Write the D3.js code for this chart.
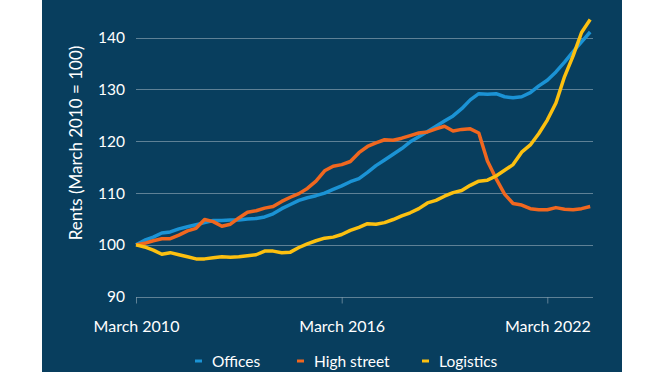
<!DOCTYPE html>
<html>
<head>
<meta charset="utf-8">
<script src="https://cdn.jsdelivr.net/npm/d3@7"></script>
<style>
  html, body { margin: 0; padding: 0; background: #ffffff; }
  svg { display: block; }
  text { font-family: Lato, "Open Sans", sans-serif; fill: #ffffff; }
</style>
</head>
<body>
<svg id="chart" width="661" height="372"></svg>
<script>
// Quarterly observations from March 2010 to June 2023
const startDate = new Date(2010, 2, 1);
const offices = [100,100.9,101.5,102.3,102.5,103.1,103.5,103.9,104.3,104.7,104.7,104.8,104.8,105.0,105.1,105.4,106.0,107.0,107.8,108.6,109.1,109.5,110.0,110.7,111.4,112.2,112.8,114.0,115.3,116.4,117.5,118.6,119.9,120.9,121.9,122.9,123.9,124.9,126.3,128.0,129.2,129.1,129.2,128.6,128.4,128.6,129.4,130.7,131.8,133.4,135.3,137.3,139.2,141.1];
const highStreet = [100,100.3,100.8,101.2,101.2,101.9,102.7,103.2,104.9,104.5,103.6,104.0,105.2,106.3,106.6,107.1,107.4,108.4,109.2,109.9,110.9,112.3,114.3,115.2,115.5,116.1,117.8,119.0,119.7,120.3,120.2,120.6,121.1,121.6,121.8,122.4,122.9,122.0,122.3,122.4,121.6,116.2,112.8,109.8,108.0,107.7,107.0,106.8,106.8,107.2,106.9,106.8,107.0,107.4];
const logistics = [100,99.6,99.0,98.2,98.5,98.1,97.7,97.3,97.3,97.5,97.7,97.6,97.7,97.9,98.1,98.8,98.8,98.5,98.6,99.5,100.2,100.8,101.3,101.5,102.0,102.8,103.4,104.1,104.0,104.3,104.9,105.6,106.2,107.0,108.1,108.6,109.4,110.1,110.5,111.5,112.3,112.5,113.3,114.4,115.5,117.9,119.3,121.5,124.1,127.4,132.5,136.5,141.0,143.5];
const seriesNames = ["Offices", "High street", "Logistics"];
const seriesColors = ["#1b93d5", "#f0671f", "#fcc010"];
const yTicks = [90, 100, 110, 120, 130, 140];
const xTickDates = [new Date(2010, 2, 1), new Date(2016, 2, 1), new Date(2022, 2, 1)];
const xTickLabels = ["March 2010", "March 2016", "March 2022"];
const yTitle = "Rents (March 2010 = 100)";

const dates = offices.map((_, i) => d3.timeMonth.offset(startDate, i * 3));
const seriesData = [offices, highStreet, logistics];

const svg = d3.select("#chart");

// panel background
svg.append("rect").attr("x", 42).attr("y", 0).attr("width", 580).attr("height", 372).attr("fill", "#083e5e");

const x = d3.scaleTime().domain([startDate, new Date(2023, 6, 1)]).range([136, 593]);
const y = d3.scaleLinear().domain([90, 140]).range([296.7, 37.7]);

// gridlines
const grid = svg.append("g");
grid.selectAll("line").data(yTicks).join("line")
  .attr("x1", 136).attr("x2", 593)
  .attr("y1", d => Math.round(y(d)) + 0.5).attr("y2", d => Math.round(y(d)) + 0.5)
  .attr("stroke", "#ffffff").attr("stroke-opacity", 0.35).attr("stroke-width", 1);

// y labels
svg.append("g").selectAll("text").data(yTicks).join("text")
  .attr("x", 125).attr("y", d => y(d)).attr("dy", "0.36em")
  .attr("text-anchor", "end").attr("font-size", 15.5)
  .text(d => d);

// x axis ticks
const xAxis = d3.axisBottom(x).tickValues(xTickDates).tickSize(6).tickFormat((d, i) => xTickLabels[i]);
const gx = svg.append("g").attr("transform", `translate(0,${Math.round(y(90)) + 0.5})`).call(xAxis);
gx.select(".domain").remove();
gx.selectAll(".tick line").attr("stroke", "#ffffff").attr("stroke-opacity", 0.35);
gx.selectAll(".tick text").attr("fill", "#ffffff").attr("font-size", 16)
  .attr("font-family", "Lato, 'Open Sans', sans-serif").attr("y", 23);

// y title
svg.append("text")
  .attr("transform", `translate(82,143) rotate(-90)`)
  .attr("text-anchor", "middle").attr("font-size", 17)
  .text(yTitle);

// lines
const line = d3.line().x((d, i) => x(dates[i])).y(d => y(d)).curve(d3.curveLinear);
svg.append("g").selectAll("path").data(seriesData).join("path")
  .attr("d", d => line(d))
  .attr("fill", "none")
  .attr("stroke", (d, i) => seriesColors[i])
  .attr("stroke-width", 3.5)
  .attr("stroke-linejoin", "round")
  .attr("stroke-linecap", "butt");

// legend
const legendX = [195, 297, 422];
const lg = svg.append("g").selectAll("g").data(seriesNames).join("g")
  .attr("transform", (d, i) => `translate(${legendX[i]},361)`);
lg.append("line").attr("x1", 0).attr("x2", 7).attr("y1", 0).attr("y2", 0)
  .attr("stroke", (d, i) => seriesColors[i]).attr("stroke-width", 3);
lg.append("text").attr("x", 17).attr("y", 0).attr("dy", "0.36em")
  .attr("font-size", 15.5).text(d => d);
</script>
</body>
</html>
